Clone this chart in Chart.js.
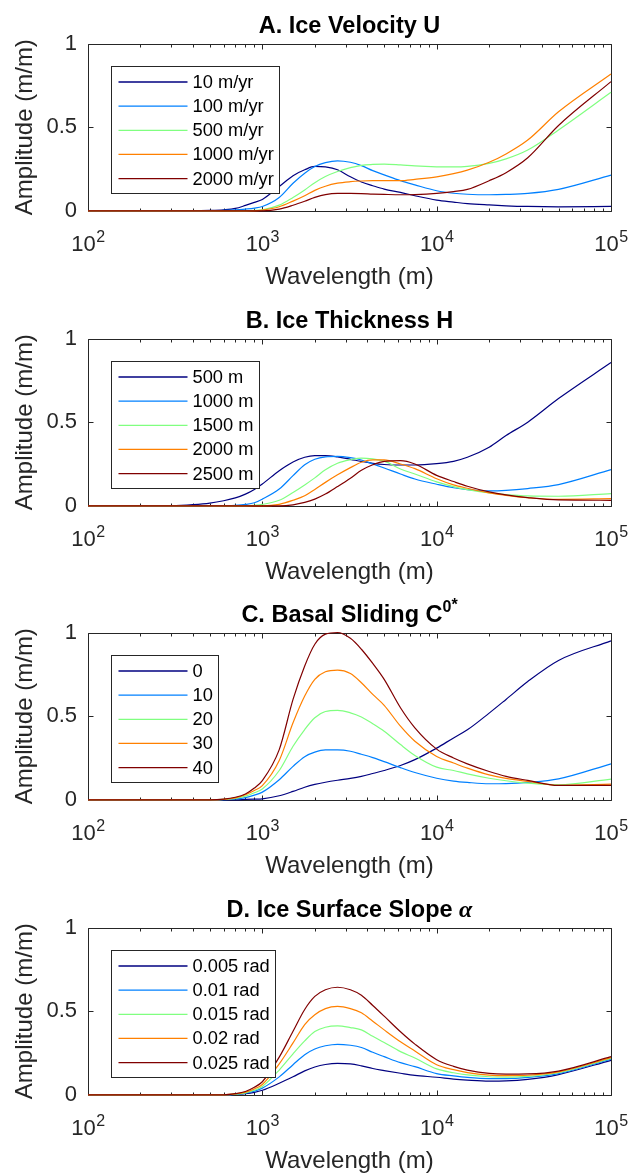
<!DOCTYPE html>
<html>
<head>
<meta charset="utf-8">
<script src="https://cdn.jsdelivr.net/npm/chart.js@4.4.0/dist/chart.umd.min.js"></script>
<style>
  html, body { margin: 0; padding: 0; background: #fff; overflow: hidden; }
  .panel { position: absolute; left: 0; width: 630px; height: 290px; }
</style>
</head>
<body>
<div class="panel" style="top:0px"><canvas id="chartA" width="630" height="290"></canvas></div>
<div class="panel" style="top:295px"><canvas id="chartB" width="630" height="290"></canvas></div>
<div class="panel" style="top:589px"><canvas id="chartC" width="630" height="290"></canvas></div>
<div class="panel" style="top:884px"><canvas id="chartD" width="630" height="290"></canvas></div>
<script>
// wavelength samples (m), shared by every curve
const wavelength = [100, 200, 300, 400, 500, 600, 700, 800, 900, 1000, 1250, 1500, 1750, 2000, 2300,
  2700, 3200, 3700, 4300, 5000, 6200, 7500, 10000, 12500, 15000, 20000, 25000, 33300, 50000, 100000];
const decadeTicks = [100, 1000, 10000, 100000];
const amplitudeTicks = [0, 0.5, 1];
const seriesColors = ['#000080', '#0080ff', '#80ff80', '#ff8000', '#800000'];

// A. Ice Velocity U
const velocityLabels = ['10 m/yr', '100 m/yr', '500 m/yr', '1000 m/yr', '2000 m/yr'];
const velocity10 = [0, 0, 0, 0, 0.002, 0.006, 0.014, 0.032, 0.05, 0.068, 0.145, 0.21, 0.245, 0.265, 0.262, 0.245, 0.203, 0.172, 0.15, 0.13, 0.11, 0.09, 0.064, 0.052, 0.043, 0.035, 0.03, 0.026, 0.024, 0.026];
const velocity100 = [0, 0, 0, 0, 0, 0.002, 0.005, 0.01, 0.016, 0.026, 0.08, 0.165, 0.225, 0.265, 0.288, 0.299, 0.29, 0.27, 0.24, 0.215, 0.18, 0.155, 0.12, 0.105, 0.099, 0.096, 0.098, 0.104, 0.128, 0.213];
const velocity500 = [0, 0, 0, 0, 0, 0, 0, 0, 0.002, 0.006, 0.034, 0.08, 0.125, 0.168, 0.205, 0.235, 0.258, 0.272, 0.277, 0.279, 0.274, 0.268, 0.263, 0.262, 0.265, 0.283, 0.31, 0.363, 0.483, 0.708];
const velocity1000 = [0, 0, 0, 0, 0, 0, 0, 0, 0, 0.004, 0.024, 0.058, 0.09, 0.122, 0.147, 0.165, 0.174, 0.178, 0.18, 0.18, 0.18, 0.188, 0.203, 0.222, 0.243, 0.29, 0.34, 0.423, 0.592, 0.818];
const velocity2000 = [0, 0, 0, 0, 0, 0, 0, 0, 0, 0, 0.01, 0.033, 0.057, 0.08, 0.097, 0.104, 0.104, 0.103, 0.1, 0.098, 0.096, 0.097, 0.104, 0.115, 0.128, 0.18, 0.228, 0.317, 0.51, 0.772];

// B. Ice Thickness H
const thicknessLabels = ['500 m', '1000 m', '1500 m', '2000 m', '2500 m'];
const thickness500 = [0, 0, 0.001, 0.007, 0.016, 0.03, 0.047, 0.07, 0.098, 0.13, 0.21, 0.262, 0.29, 0.3, 0.3, 0.292, 0.278, 0.265, 0.254, 0.247, 0.244, 0.244, 0.252, 0.266, 0.29, 0.35, 0.42, 0.5, 0.641, 0.856];
const thickness1000 = [0, 0, 0, 0, 0, 0.001, 0.003, 0.008, 0.018, 0.04, 0.1, 0.18, 0.245, 0.278, 0.293, 0.296, 0.288, 0.274, 0.25, 0.226, 0.19, 0.16, 0.129, 0.108, 0.097, 0.089, 0.092, 0.103, 0.127, 0.216];
const thickness1500 = [0, 0, 0, 0, 0, 0, 0, 0, 0.003, 0.008, 0.033, 0.08, 0.125, 0.167, 0.215, 0.254, 0.275, 0.285, 0.28, 0.267, 0.22, 0.19, 0.143, 0.115, 0.097, 0.077, 0.067, 0.059, 0.057, 0.073];
const thickness2000 = [0, 0, 0, 0, 0, 0, 0, 0, 0, 0, 0.009, 0.033, 0.06, 0.098, 0.14, 0.185, 0.228, 0.26, 0.274, 0.274, 0.25, 0.222, 0.162, 0.125, 0.105, 0.077, 0.062, 0.048, 0.039, 0.043];
const thickness2500 = [0, 0, 0, 0, 0, 0, 0, 0, 0, 0, 0, 0.006, 0.02, 0.04, 0.07, 0.115, 0.165, 0.212, 0.245, 0.266, 0.27, 0.25, 0.182, 0.145, 0.117, 0.083, 0.065, 0.049, 0.035, 0.033];

// C. Basal Sliding C0*
const slidingLabels = ['0', '10', '20', '30', '40'];
const sliding0 = [0, 0, 0, 0, 0, 0, 0, 0.002, 0.004, 0.006, 0.024, 0.05, 0.075, 0.092, 0.105, 0.117, 0.128, 0.14, 0.157, 0.175, 0.205, 0.24, 0.309, 0.37, 0.418, 0.518, 0.6, 0.707, 0.833, 0.95];
const sliding10 = [0, 0, 0, 0, 0, 0.001, 0.005, 0.013, 0.028, 0.046, 0.12, 0.2, 0.258, 0.285, 0.298, 0.298, 0.29, 0.272, 0.252, 0.228, 0.192, 0.163, 0.129, 0.112, 0.104, 0.096, 0.097, 0.104, 0.125, 0.215];
const sliding20 = [0, 0, 0, 0, 0, 0.002, 0.008, 0.022, 0.042, 0.065, 0.175, 0.32, 0.42, 0.49, 0.528, 0.535, 0.52, 0.495, 0.455, 0.41, 0.33, 0.265, 0.195, 0.175, 0.155, 0.129, 0.114, 0.1, 0.09, 0.124];
const sliding30 = [0, 0, 0, 0, 0, 0.003, 0.012, 0.03, 0.055, 0.085, 0.235, 0.46, 0.62, 0.72, 0.765, 0.775, 0.755, 0.7, 0.63, 0.565, 0.44, 0.35, 0.259, 0.22, 0.189, 0.149, 0.128, 0.11, 0.086, 0.094];
const sliding40 = [0, 0, 0, 0, 0, 0.004, 0.015, 0.035, 0.07, 0.115, 0.3, 0.6, 0.8, 0.93, 0.99, 1.0, 0.965, 0.9, 0.815, 0.72, 0.55, 0.43, 0.303, 0.25, 0.215, 0.169, 0.14, 0.116, 0.086, 0.086];

// D. Ice Surface Slope alpha
const slopeLabels = ['0.005 rad', '0.01 rad', '0.015 rad', '0.02 rad', '0.025 rad'];
const slope005 = [0, 0, 0, 0, 0, 0, 0.002, 0.007, 0.015, 0.027, 0.069, 0.108, 0.143, 0.166, 0.181, 0.188, 0.185, 0.173, 0.157, 0.145, 0.129, 0.116, 0.105, 0.094, 0.088, 0.082, 0.083, 0.092, 0.121, 0.206];
const slope01 = [0, 0, 0, 0, 0, 0, 0.003, 0.01, 0.022, 0.04, 0.107, 0.18, 0.24, 0.274, 0.293, 0.302, 0.296, 0.283, 0.254, 0.228, 0.192, 0.168, 0.127, 0.113, 0.104, 0.097, 0.097, 0.104, 0.127, 0.213];
const slope015 = [0, 0, 0, 0, 0, 0, 0.004, 0.012, 0.027, 0.05, 0.148, 0.245, 0.322, 0.378, 0.404, 0.412, 0.402, 0.388, 0.35, 0.313, 0.258, 0.22, 0.155, 0.132, 0.119, 0.108, 0.106, 0.11, 0.132, 0.217];
const slope02 = [0, 0, 0, 0, 0, 0, 0.005, 0.016, 0.035, 0.062, 0.185, 0.31, 0.42, 0.478, 0.515, 0.528, 0.515, 0.49, 0.44, 0.388, 0.317, 0.262, 0.18, 0.15, 0.133, 0.118, 0.115, 0.117, 0.137, 0.222];
const slope025 = [0, 0, 0, 0, 0, 0, 0.007, 0.02, 0.045, 0.078, 0.225, 0.38, 0.51, 0.588, 0.628, 0.643, 0.628, 0.595, 0.534, 0.47, 0.377, 0.303, 0.21, 0.17, 0.148, 0.128, 0.124, 0.125, 0.142, 0.228];

const axisColor = '#262626';
const fontFamily = "'Liberation Sans', Arial, Helvetica, sans-serif";
Chart.defaults.font.family = fontFamily;

const snap = (v) => Math.round(v) + 0.5;

// matlab style box with inward ticks, drawn under the curves
const axesBox = {
  id: 'axesBox',
  beforeDatasetsDraw(chart) {
    const { ctx, chartArea: a, scales: { x, y } } = chart;
    const left = snap(a.left), right = snap(a.right), top = snap(a.top), bottom = snap(a.bottom);
    ctx.save();
    ctx.strokeStyle = axisColor;
    ctx.lineWidth = 1;
    ctx.beginPath();
    ctx.rect(left, top, right - left, bottom - top);
    const xTick = (v, len) => {
      const px = snap(x.getPixelForValue(v));
      ctx.moveTo(px, bottom); ctx.lineTo(px, bottom - len);
      ctx.moveTo(px, top); ctx.lineTo(px, top + len);
    };
    decadeTicks.forEach((d, i) => {
      xTick(d, 5);
      if (i < decadeTicks.length - 1) {
        for (let k = 2; k <= 9; k++) xTick(k * d, 3);
      }
    });
    amplitudeTicks.forEach(v => {
      const py = snap(y.getPixelForValue(v));
      ctx.moveTo(left, py); ctx.lineTo(left + 5, py);
      ctx.moveTo(right, py); ctx.lineTo(right - 5, py);
    });
    ctx.stroke();
    ctx.restore();
  }
};

// 10^n labels with a real raised exponent
const powerLabels = {
  id: 'powerLabels',
  afterDraw(chart) {
    const { ctx, chartArea: a, scales: { x } } = chart;
    const baseFont = '22px ' + fontFamily, expFont = '16px ' + fontFamily;
    const baseline = a.bottom + 40.3;
    ctx.save();
    ctx.fillStyle = axisColor;
    ctx.textAlign = 'left';
    ctx.textBaseline = 'alphabetic';
    x.ticks.forEach(t => {
      const exp = String(Math.round(Math.log10(t.value)));
      ctx.font = baseFont;
      const wBase = ctx.measureText('10').width;
      ctx.font = expFont;
      const wExp = ctx.measureText(exp).width;
      const x0 = x.getPixelForValue(t.value) - (wBase + wExp) / 2;
      ctx.font = baseFont;
      ctx.fillText('10', x0, baseline);
      ctx.font = expFont;
      ctx.fillText(exp, x0 + wBase + 0.5, baseline - 9);
    });
    ctx.restore();
  }
};

// title made of pieces so superscripts and greek letters can be styled
const panelTitle = {
  id: 'panelTitle',
  afterDraw(chart, args, opts) {
    const { ctx, chartArea: a } = chart;
    const parts = opts.parts || [];
    ctx.save();
    const widths = parts.map(p => { ctx.font = p.font; return ctx.measureText(p.text).width; });
    const total = widths.reduce((s, w) => s + w, 0);
    let x = (a.left + a.right) / 2 - total / 2;
    const y = a.top - 11;
    ctx.fillStyle = '#000';
    ctx.textAlign = 'left';
    ctx.textBaseline = 'alphabetic';
    parts.forEach((p, i) => {
      ctx.font = p.font;
      ctx.fillText(p.text, x, y - (p.rise || 0));
      x += widths[i];
    });
    ctx.restore();
  }
};

// boxed legend in the upper left of the axes
const boxLegend = {
  id: 'boxLegend',
  afterDatasetsDraw(chart) {
    const { ctx, chartArea: a } = chart;
    const sets = chart.data.datasets;
    ctx.save();
    ctx.font = '18.3px ' + fontFamily;
    const textW = Math.max(...sets.map(d => ctx.measureText(d.label).width));
    const x0 = snap(a.left + 23), y0 = snap(a.top + 22.7);
    const w = Math.round(81 + textW + 6), h = 127;
    ctx.fillStyle = '#fff';
    ctx.fillRect(x0, y0, w, h);
    ctx.strokeStyle = axisColor;
    ctx.lineWidth = 1;
    ctx.strokeRect(x0, y0, w, h);
    sets.forEach((d, i) => {
      const cy = y0 + 15.5 + 24.15 * i;
      ctx.strokeStyle = d.borderColor;
      ctx.lineWidth = 1.3;
      ctx.beginPath();
      ctx.moveTo(x0 + 7, cy);
      ctx.lineTo(x0 + 76, cy);
      ctx.stroke();
      ctx.fillStyle = '#000';
      ctx.textAlign = 'left';
      ctx.textBaseline = 'middle';
      ctx.fillText(d.label, x0 + 81, cy + 1);
    });
    ctx.restore();
  }
};

function buildPanel(canvasId, titleParts, labels, series) {
  const datasets = series.map((values, i) => ({
    label: labels[i],
    data: values.map((v, j) => ({ x: wavelength[j], y: v })),
    borderColor: seriesColors[i],
    backgroundColor: seriesColors[i],
    borderWidth: 1.2,
    pointRadius: 0,
    fill: false,
    cubicInterpolationMode: 'monotone',
    clip: 3,
    order: series.length - i
  }));

  new Chart(document.getElementById(canvasId), {
    type: 'line',
    data: { datasets },
    options: {
      responsive: false,
      animation: false,
      devicePixelRatio: 1,
      events: [],
      layout: { padding: { top: 43.5, right: 19, bottom: 0, left: 0 } },
      plugins: {
        legend: { display: false },
        tooltip: { enabled: false },
        panelTitle: { parts: titleParts }
      },
      scales: {
        x: {
          type: 'logarithmic',
          min: 100,
          max: 100000,
          afterBuildTicks: (s) => { s.ticks = decadeTicks.map(v => ({ value: v })); },
          afterFit: (s) => { s.height = 79.2; },
          grid: { display: false, drawTicks: false },
          border: { display: false },
          // labels are drawn by powerLabels
          ticks: { display: false, autoSkip: false, maxRotation: 0 },
          title: {
            display: true,
            text: 'Wavelength (m)',
            color: axisColor,
            font: { size: 24 },
            padding: { top: 0, bottom: -2 }
          }
        },
        y: {
          min: 0,
          max: 1,
          afterBuildTicks: (s) => { s.ticks = amplitudeTicks.map(v => ({ value: v })); },
          afterFit: (s) => { s.width = 88; },
          grid: { display: false, drawTicks: false },
          border: { display: false },
          ticks: {
            padding: 11,
            color: axisColor,
            font: { size: 22 },
            callback: (v) => String(v)
          },
          title: {
            display: true,
            text: 'Amplitude (m/m)',
            color: axisColor,
            font: { size: 24 },
            padding: { top: 11, bottom: 0 }
          }
        }
      }
    },
    plugins: [axesBox, boxLegend, powerLabels, panelTitle]
  });
}

const boldTitle = 'bold 23.5px ' + fontFamily;

buildPanel('chartA', [{ text: 'A. Ice Velocity U', font: boldTitle }], velocityLabels,
  [velocity10, velocity100, velocity500, velocity1000, velocity2000]);

buildPanel('chartB', [{ text: 'B. Ice Thickness H', font: boldTitle }], thicknessLabels,
  [thickness500, thickness1000, thickness1500, thickness2000, thickness2500]);

buildPanel('chartC', [
  { text: 'C. Basal Sliding C', font: boldTitle },
  { text: '0', font: 'bold 16px ' + fontFamily, rise: 10 },
  { text: '*', font: 'bold 16px ' + fontFamily, rise: 12 }
], slidingLabels, [sliding0, sliding10, sliding20, sliding30, sliding40]);

buildPanel('chartD', [
  { text: 'D. Ice Surface Slope ', font: boldTitle },
  { text: '\u03b1', font: "italic bold 24px 'Liberation Serif', 'DejaVu Serif', serif" }
], slopeLabels, [slope005, slope01, slope015, slope02, slope025]);
</script>
</body>
</html>
